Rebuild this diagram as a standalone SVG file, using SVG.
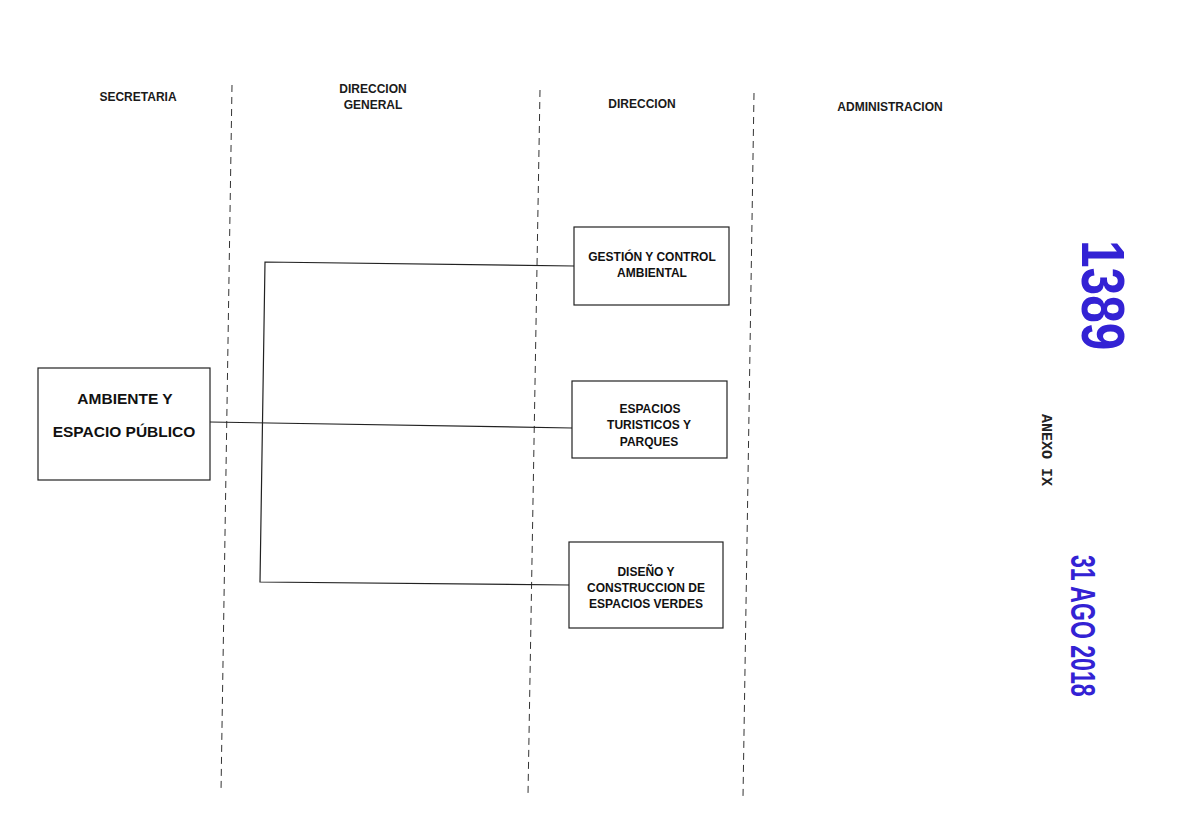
<svg xmlns="http://www.w3.org/2000/svg" width="1180" height="833" viewBox="0 0 1180 833">
<style>
.hdr{font-family:"Liberation Sans",Arial,sans-serif;font-weight:bold;font-size:12px;fill:#1a1a1a;text-anchor:middle}
.box{fill:#fff;stroke:#222;stroke-width:1.2}
.lbl{font-family:"Liberation Sans",Arial,sans-serif;font-weight:bold;font-size:12px;fill:#111;text-anchor:middle}
.big{font-family:"Liberation Sans",Arial,sans-serif;font-weight:bold;font-size:15.5px;fill:#111;text-anchor:middle}
.lane{stroke:#333;stroke-width:1;stroke-dasharray:7 5;fill:none}
.conn{stroke:#222;stroke-width:1.2;fill:none}
.stamp{font-family:"Liberation Sans",Arial,sans-serif;font-weight:bold;fill:#3322d4}
</style>
<rect width="1180" height="833" fill="#fff"/>
<g id="lanes">
<line class="lane" x1="232" y1="85" x2="221" y2="792"/>
<line class="lane" x1="540" y1="90" x2="528" y2="795"/>
<line class="lane" x1="754" y1="93" x2="743" y2="797"/>
</g>
<g id="headers">
<text class="hdr" x="138" y="101">SECRETARIA</text>
<text class="hdr" x="373" y="93">DIRECCION</text>
<text class="hdr" x="373" y="109">GENERAL</text>
<text class="hdr" x="642" y="108">DIRECCION</text>
<text class="hdr" x="890" y="111">ADMINISTRACION</text>
</g>
<g id="connectors">
<polyline class="conn" points="574,266 265,262 260,582 569,585"/>
<line class="conn" x1="210" y1="422" x2="572" y2="428"/>
</g>
<g id="node-ambiente">
<rect class="box" x="38" y="368" width="172" height="112"/>
<text class="big" x="125" y="404">AMBIENTE Y</text>
<text class="big" x="124" y="437">ESPACIO PÚBLICO</text>
</g>
<g id="node-gestion">
<rect class="box" x="574" y="227" width="155" height="78"/>
<text class="lbl" x="652" y="261">GESTIÓN Y CONTROL</text>
<text class="lbl" x="652" y="277">AMBIENTAL</text>
</g>
<g id="node-espacios">
<rect class="box" x="572" y="381" width="155" height="77"/>
<text class="lbl" x="650" y="413">ESPACIOS</text>
<text class="lbl" x="649" y="429">TURISTICOS Y</text>
<text class="lbl" x="649" y="446">PARQUES</text>
</g>
<g id="node-diseno">
<rect class="box" x="569" y="542" width="154" height="86"/>
<text class="lbl" x="646" y="576">DISEÑO Y</text>
<text class="lbl" x="646" y="592">CONSTRUCCION DE</text>
<text class="lbl" x="646" y="608">ESPACIOS VERDES</text>
</g>
<g id="stamps">
<text class="stamp" font-size="62" transform="translate(1082,240) rotate(90) scale(0.8,1)">1389</text>
<text font-family="'Liberation Mono','Courier New',monospace" font-weight="bold" font-size="15" fill="#222" transform="translate(1042,414) rotate(90)">ANEXO IX</text>
<text class="stamp" font-size="35" transform="translate(1071,555) rotate(90) scale(0.66,1)">31 AGO 2018</text>
</g>
</svg>
